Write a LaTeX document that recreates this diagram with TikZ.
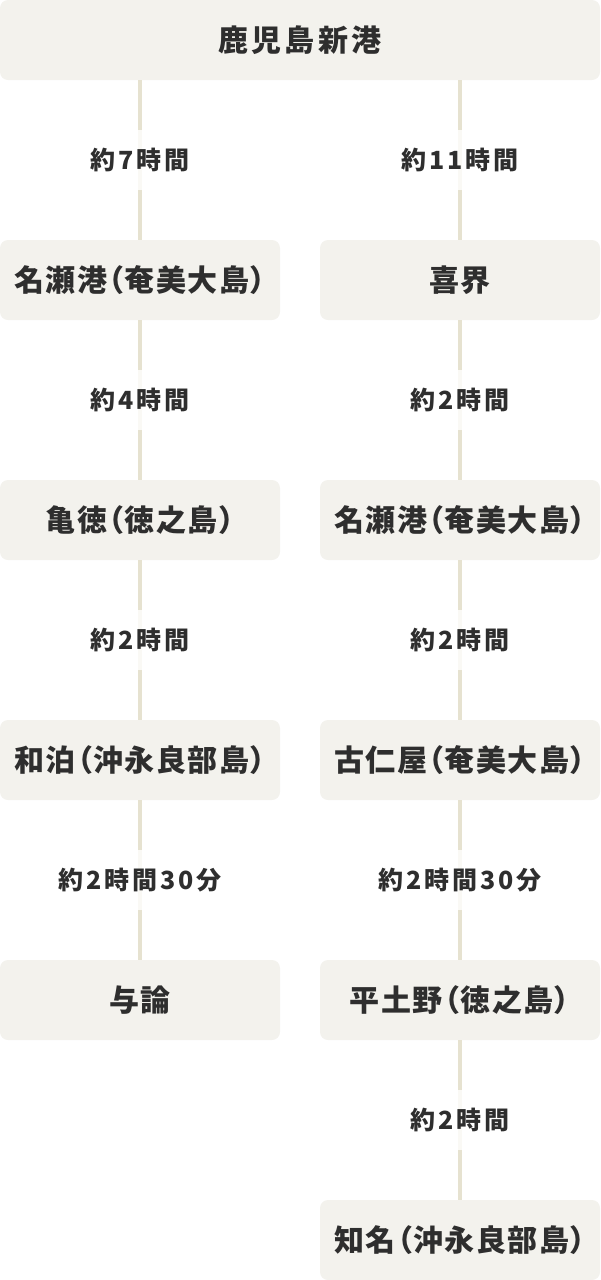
\documentclass[tikz,border=0pt]{standalone}
\usepackage{fontspec}
\setmainfont{Noto Sans CJK JP}[RawFeature={+palt}]
\definecolor{boxfill}{HTML}{F3F2ED}
\definecolor{linec}{HTML}{E6E2D0}
\definecolor{txt}{HTML}{2E2E2E}
\begin{document}
\begin{tikzpicture}[x=1pt,y=-1pt,
  station/.style={fill=boxfill,rounded corners=8pt,minimum height=80pt,inner sep=0pt,
    text=txt,font=\fontsize{30}{30}\selectfont\bfseries\addfontfeatures{LetterSpace=5}},
  wide/.style={station,minimum width=600pt,font=\fontsize{30}{30}\selectfont\bfseries\addfontfeatures{LetterSpace=11}},
  half/.style={station,minimum width=280pt},
  dur/.style={fill=white,fill opacity=0.8,text opacity=1,text=txt,minimum height=60pt,
    inner sep=2pt,font=\fontsize{25}{25}\selectfont\bfseries\addfontfeatures{LetterSpace=12}},
  link/.style={draw=linec,line width=4pt}]
\useasboundingbox (0,0) rectangle (600,1280);
% stations
\node[wide] (top) at (300,40) {鹿児島新港};
\node[half] (l1) at (140,280) {名瀬港（奄美大島）};
\node[half] (l2) at (140,520) {亀徳（徳之島）};
\node[half] (l3) at (140,760) {和泊（沖永良部島）};
\node[half] (l4) at (140,1000) {与論};
\node[half] (r1) at (460,280) {喜界};
\node[half] (r2) at (460,520) {名瀬港（奄美大島）};
\node[half] (r3) at (460,760) {古仁屋（奄美大島）};
\node[half] (r4) at (460,1000) {平土野（徳之島）};
\node[half] (r5) at (460,1240) {知名（沖永良部島）};
% connectors
\coordinate (tl) at (140,80);
\coordinate (tr) at (460,80);
\draw[link] (tl) -- (l1.north);
\draw[link] (l1.south) -- (l2.north);
\draw[link] (l2.south) -- (l3.north);
\draw[link] (l3.south) -- (l4.north);
\draw[link] (tr) -- (r1.north);
\draw[link] (r1.south) -- (r2.north);
\draw[link] (r2.south) -- (r3.north);
\draw[link] (r3.south) -- (r4.north);
\draw[link] (r4.south) -- (r5.north);
% durations
\node[dur] (d1) at (140,160) {約7時間};
\node[dur] (d2) at (140,400) {約4時間};
\node[dur] (d3) at (140,640) {約2時間};
\node[dur] (d4) at (140,880) {約2時間30分};
\node[dur] (e1) at (460,160) {約11時間};
\node[dur] (e2) at (460,400) {約2時間};
\node[dur] (e3) at (460,640) {約2時間};
\node[dur] (e4) at (460,880) {約2時間30分};
\node[dur] (e5) at (460,1120) {約2時間};
\end{tikzpicture}
\end{document}
